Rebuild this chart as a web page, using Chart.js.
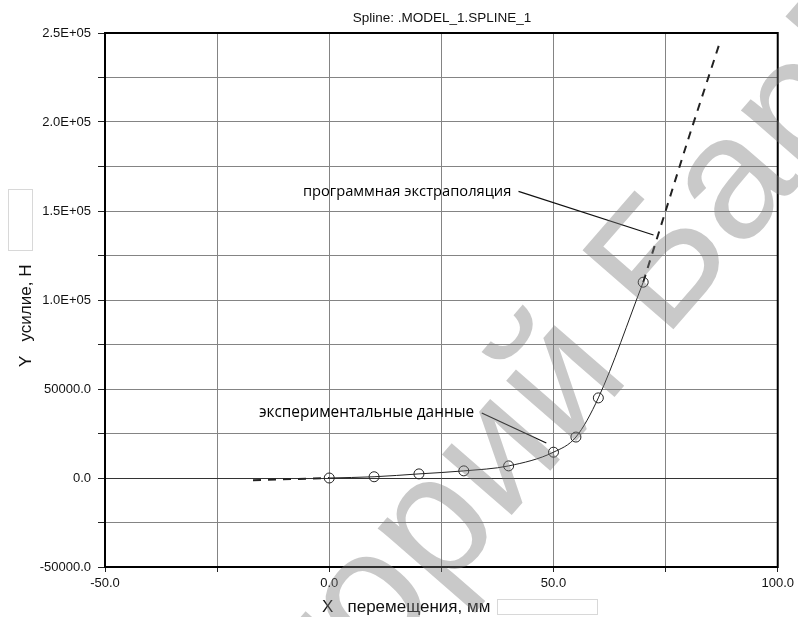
<!DOCTYPE html>
<html>
<head>
<meta charset="utf-8">
<script src="https://cdn.jsdelivr.net/npm/chart.js@4.4.1/dist/chart.umd.min.js"></script>
<style>
  html, body { margin: 0; padding: 0; background: #fff; }
  #wrap { width: 798px; height: 617px; }
</style>
</head>
<body>
<div id="wrap"><canvas id="chart" width="798" height="617"></canvas></div>
<script>
// экспериментальные точки (перемещение, мм / усилие, Н)
const expX = [0, 10, 20, 30, 40, 50, 55, 60, 70];
const expY = [0, 700, 2300, 4000, 6800, 14500, 23000, 45000, 110000];

// программная экстраполяция слева и справа
const extLeftX = [-17, 0];
const extLeftY = [-1200, 0];
const extRightX = [70, 75, 80, 87];
const extRightY = [110000, 150000, 190000, 244000];

const xMin = -50, xMax = 100, xStep = 25;
const yMin = -50000, yMax = 250000, yStep = 25000;

const chartTitle = 'Spline: .MODEL_1.SPLINE_1';
const xTitle = 'X   перемещения, мм';
const yTitle = 'Y   усилие, Н';

// подписи-выноски: текст, конец текста и конец линии (в единицах осей)
const notes = [
    { text: 'программная экстраполяция', at: [40.6, 161000], from: [42.2, 161000], to: [72.3, 136500] },
    { text: 'экспериментальные данные', at: [32.3, 36500], from: [34.0, 36500], to: [48.4, 19700] }
];

const watermarkLeft = 'Репозиторий ';
const watermarkRight = 'БарГУ';

const toPts = (xs, ys) => xs.map((x, i) => ({ x, y: ys[i] }));

function fmtY(v) {
    if (v === 0) return '0.0';
    if (Math.abs(v) >= 100000) {
        const e = Math.floor(Math.log10(Math.abs(v)));
        return (v / Math.pow(10, e)).toFixed(1) + 'E+' + String(e).padStart(2, '0');
    }
    return v.toFixed(1);
}

const decor = {
    id: 'decor',
    afterDraw(chart) {
        const { ctx, chartArea: a, scales: { x, y } } = chart;
        ctx.save();

        // рамка
        ctx.strokeStyle = '#000';
        ctx.lineWidth = 2;
        ctx.strokeRect(a.left, a.top, a.right - a.left, a.bottom - a.top);

        // заголовок
        ctx.fillStyle = '#111';
        ctx.font = '13.5px "Liberation Sans", Arial, sans-serif';
        ctx.textAlign = 'center';
        ctx.textBaseline = 'middle';
        ctx.fillText(chartTitle, 442, 18);

        // подписи осей
        ctx.font = '17px "Liberation Sans", Arial, sans-serif';
        ctx.textAlign = 'left';
        ctx.textBaseline = 'alphabetic';
        ctx.fillText(xTitle, 322, 612);
        ctx.strokeStyle = '#d8d8d8';
        ctx.lineWidth = 1;
        ctx.strokeRect(497.5, 599.5, 100, 15);

        ctx.save();
        ctx.translate(31, 367);
        ctx.rotate(-Math.PI / 2);
        ctx.fillText(yTitle, 0, 0);
        ctx.restore();
        ctx.strokeRect(8.5, 189.5, 24, 61);

        // выноски
        ctx.textAlign = 'right';
        ctx.textBaseline = 'middle';
        ctx.fillStyle = '#000';
        ctx.strokeStyle = '#111';
        ctx.lineWidth = 1.2;
        notes.forEach((n, i) => {
            ctx.font = (i === 0 ? '14.7px' : '15.4px') + ' "Open Sans", sans-serif';
            ctx.fillText(n.text, x.getPixelForValue(n.at[0]), y.getPixelForValue(n.at[1]));
            ctx.beginPath();
            ctx.moveTo(x.getPixelForValue(n.from[0]), y.getPixelForValue(n.from[1]));
            ctx.lineTo(x.getPixelForValue(n.to[0]), y.getPixelForValue(n.to[1]));
            ctx.stroke();
        });

        // водяной знак
        ctx.fillStyle = 'rgba(120,120,120,0.4)';
        ctx.font = '175px "Liberation Sans", Arial, sans-serif';
        ctx.translate(664, 340);
        ctx.rotate(-49 * Math.PI / 180);
        ctx.textBaseline = 'alphabetic';
        ctx.textAlign = 'right';
        ctx.fillText(watermarkLeft, 0, 0);
        ctx.textAlign = 'left';
        ctx.fillText(watermarkRight, 0, 0);

        ctx.restore();
    }
};

new Chart(document.getElementById('chart'), {
    type: 'scatter',
    data: {
        datasets: [
            {
                label: 'эксперимент',
                data: toPts(expX, expY),
                showLine: true,
                cubicInterpolationMode: 'monotone',
                borderColor: '#222',
                borderWidth: 1,
                pointRadius: 5,
                pointBackgroundColor: 'rgba(255,255,255,0)',
                pointBorderColor: '#222',
                pointBorderWidth: 1
            },
            {
                label: 'экстраполяция слева',
                data: toPts(extLeftX, extLeftY),
                showLine: true,
                borderColor: '#222',
                borderWidth: 2,
                borderDash: [8, 7],
                pointRadius: 0
            },
            {
                label: 'экстраполяция справа',
                data: toPts(extRightX, extRightY),
                showLine: true,
                borderColor: '#222',
                borderWidth: 2,
                borderDash: [8, 7],
                tension: 0.2,
                pointRadius: 0
            }
        ]
    },
    options: {
        responsive: false,
        animation: false,
        layout: { padding: { top: 33, right: 19, left: 0, bottom: 0 } },
        plugins: {
            legend: { display: false },
            tooltip: { enabled: false }
        },
        scales: {
            x: {
                type: 'linear',
                min: xMin,
                max: xMax,
                afterFit: s => { s.height = 50; },
                border: { display: false },
                grid: {
                    color: '#848484',
                    lineWidth: 1,
                    tickLength: 5,
                    tickColor: '#222'
                },
                ticks: {
                    stepSize: xStep,
                    padding: 4,
                    color: '#111',
                    maxRotation: 0,
                    font: { family: '"Liberation Sans", Arial, sans-serif', size: 13 },
                    callback: v => (v % 50 === 0 ? v.toFixed(1) : '')
                }
            },
            y: {
                type: 'linear',
                min: yMin,
                max: yMax,
                afterFit: s => { s.width = 105; },
                border: { display: false },
                grid: {
                    color: ctx => (ctx.tick && ctx.tick.value === 0 ? '#333' : '#848484'),
                    lineWidth: 1,
                    tickLength: 7,
                    tickColor: '#222'
                },
                ticks: {
                    stepSize: yStep,
                    padding: 7,
                    color: '#111',
                    font: { family: '"Liberation Sans", Arial, sans-serif', size: 13 },
                    callback: v => (v % 50000 === 0 ? fmtY(v) : '')
                }
            }
        }
    },
    plugins: [decor]
});
</script>
</body>
</html>
